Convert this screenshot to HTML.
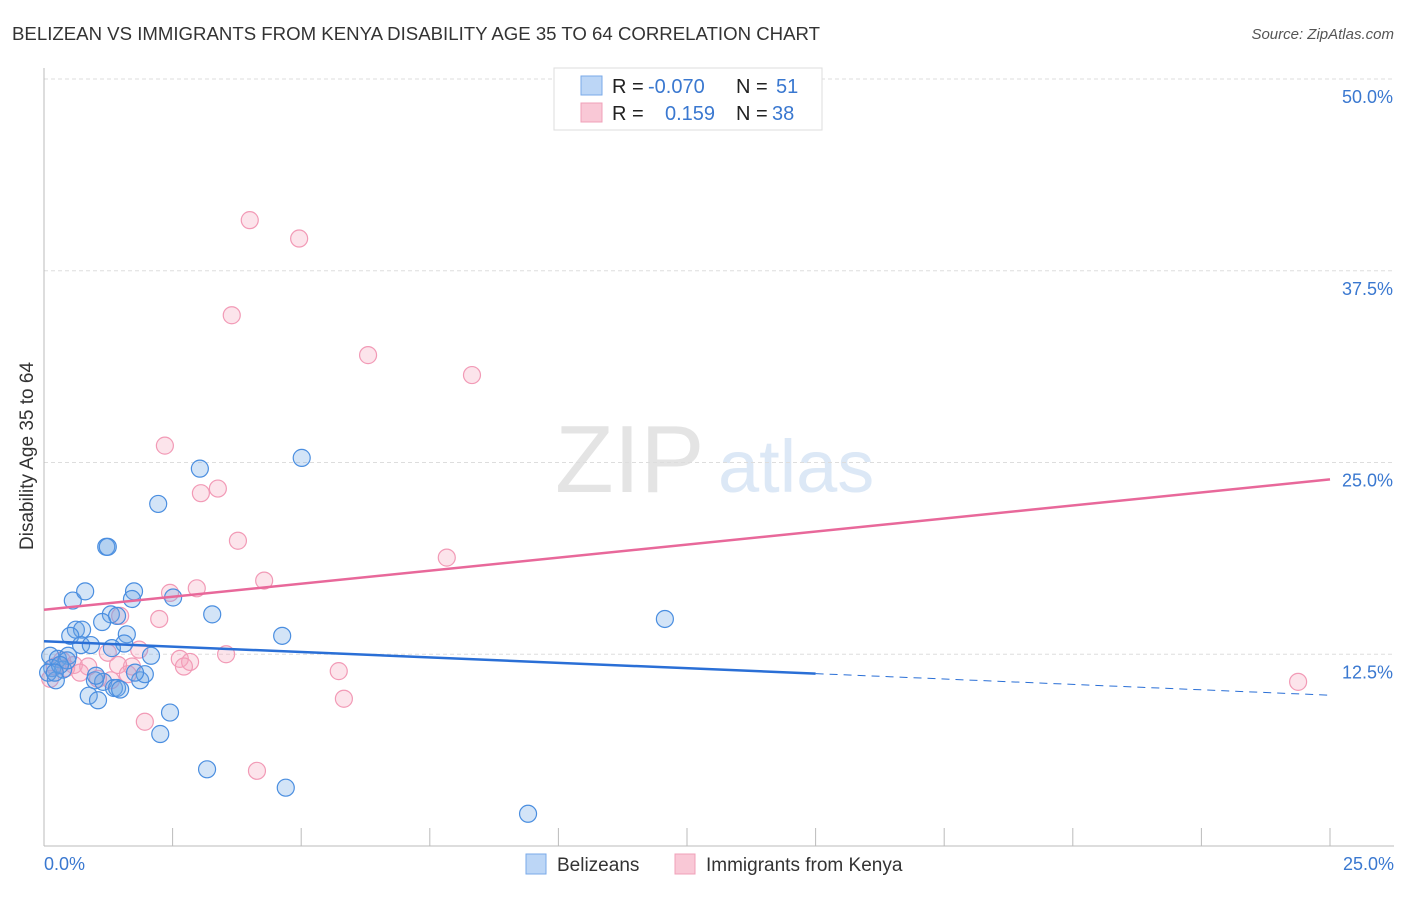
<!DOCTYPE html>
<html><head><meta charset="utf-8"><style>
body{margin:0;background:#fff;font-family:"Liberation Sans",sans-serif;}
svg text{font-family:"Liberation Sans",sans-serif;}
</style></head><body>
<svg id="chart" width="1406" height="892" xmlns="http://www.w3.org/2000/svg">
<text x="12" y="40" font-size="18" fill="#333" textLength="808" lengthAdjust="spacingAndGlyphs">BELIZEAN VS IMMIGRANTS FROM KENYA DISABILITY AGE 35 TO 64 CORRELATION CHART</text>
<text x="1394" y="39" font-size="15" fill="#555" font-style="italic" text-anchor="end">Source: ZipAtlas.com</text>
<g>
<text x="555" y="492" font-size="96" fill="#e4e4e4" font-family="Liberation Serif,serif">ZIP</text>
<text x="718" y="492" font-size="74" fill="#dce8f6">atlas</text>
</g>
<g id="grid"></g>
<g id="axes"></g>
<g id="marks"></g>
<g>
<rect x="554" y="68" width="268" height="62" fill="#fff" stroke="#ddd"/>
<rect x="581" y="76" width="21" height="19" fill="#bcd6f6" stroke="#7aaae8"/>
<rect x="581" y="103" width="21" height="19" fill="#f9c8d6" stroke="#f0a0b8"/>
<text x="612" y="93" font-size="20" fill="#222">R =</text>
<text x="648" y="93" font-size="20" fill="#3a78d0">-0.070</text>
<text x="736" y="93" font-size="20" fill="#222">N =</text>
<text x="776" y="93" font-size="20" fill="#3a78d0">51</text>
<text x="612" y="120" font-size="20" fill="#222">R =</text>
<text x="665" y="120" font-size="20" fill="#3a78d0">0.159</text>
<text x="736" y="120" font-size="20" fill="#222">N =</text>
<text x="772" y="120" font-size="20" fill="#3a78d0">38</text>
</g>
<g>
<rect x="526" y="854" width="20" height="20" fill="#bcd6f6" stroke="#7aaae8"/>
<text x="557" y="871" font-size="19" fill="#333">Belizeans</text>
<rect x="675" y="854" width="20" height="20" fill="#f9c8d6" stroke="#f0a0b8"/>
<text x="706" y="871" font-size="19" fill="#333">Immigrants from Kenya</text>
</g>
<text transform="translate(33,456) rotate(-90)" font-size="19" fill="#333" text-anchor="middle">Disability Age 35 to 64</text>
</svg>
<script>
const yTicks=[12.5,25,37.5,50];
const yTickLabels=["12.5%","25.0%","37.5%","50.0%"];
const blueX=[3.03,5.01,2.22,1.21,1.24,0.56,0.80,1.75,1.71,2.51,3.27,1.30,1.42,1.13,1.61,4.63,12.07,0.62,0.74,0.51,0.72,0.91,1.56,1.32,2.08,0.12,0.27,0.47,0.16,0.37,0.45,0.99,1.15,1.36,1.42,1.87,1.96,1.77,0.23,0.87,1.05,2.45,2.26,3.17,4.70,9.41,0.08,0.31,1.01,1.48,0.21];
const blueY=[24.6,25.3,22.3,19.5,19.5,16.0,16.6,16.6,16.1,16.2,15.1,15.1,15.0,14.6,13.8,13.7,14.8,14.1,14.1,13.7,13.1,13.1,13.2,12.9,12.4,12.4,12.2,12.4,11.6,11.5,12.1,10.8,10.7,10.3,10.3,10.8,11.2,11.3,10.8,9.8,9.5,8.7,7.3,5.0,3.8,2.1,11.3,11.8,11.1,10.2,11.3];
const pinkX=[4.00,4.96,3.65,6.30,8.32,2.35,3.38,3.05,3.77,7.83,4.28,2.97,2.45,2.24,1.48,1.85,1.24,2.64,2.84,2.72,3.54,5.73,5.83,1.96,4.14,24.38,0.12,0.35,0.58,0.86,1.05,1.71,1.44,1.63,1.30,0.21,0.43,0.70];
const pinkY=[40.8,39.6,34.6,32.0,30.7,26.1,23.3,23.0,19.9,18.8,17.3,16.8,16.5,14.8,15.0,12.8,12.6,12.2,12.0,11.7,12.5,11.4,9.6,8.1,4.9,10.7,10.9,12.1,11.8,11.7,10.9,11.7,11.8,11.2,10.8,11.7,11.6,11.3];
const blueTrend=[13.35,9.83];
const pinkTrend=[15.4,23.9];
const blueSolidEnd=15;

const X0=44,X1=1330,Y0=846,Y50=79;
const sx=v=>X0+(v/25)*(X1-X0);
const sy=v=>Y0-(v/50)*(Y0-Y50);
const NS="http://www.w3.org/2000/svg";
function mk(tag,attrs,parent){const e=document.createElementNS(NS,tag);for(const k in attrs)e.setAttribute(k,attrs[k]);parent.appendChild(e);return e;}
const grid=document.getElementById('grid'),axes=document.getElementById('axes'),marks=document.getElementById('marks');
yTicks.forEach((t,i)=>{
  const l=mk('line',{x1:44,x2:1394,y1:sy(t),y2:sy(t),stroke:'#ddd','stroke-dasharray':'4,3'},grid);
  
  
  const tx=mk('text',{x:1393,y:sy(t)+24,'font-size':18,fill:'#3a78d0','text-anchor':'end'},axes);
  tx.textContent=yTickLabels[i];
  
  
});
const ya=mk('line',{x1:44,x2:44,y1:68,y2:846,stroke:'#bbb'},axes);


const xa=mk('line',{x1:44,x2:1394,y1:846,y2:846,stroke:'#bbb'},axes);


for(let i=0;i<=10;i++){
  const tk=mk('line',{x1:sx(i*2.5),x2:sx(i*2.5),y1:828,y2:846,stroke:'#bbb'},axes);
  
  
}
const xl0=mk('text',{x:44,y:870,'font-size':18,fill:'#3a78d0'},axes);xl0.textContent='0.0%';


const xl1=mk('text',{x:1394,y:870,'font-size':18,fill:'#3a78d0','text-anchor':'end'},axes);xl1.textContent='25.0%';



pinkX.forEach((x,i)=>{
  const c=mk('circle',{cx:sx(x),cy:sy(pinkY[i]),r:8.5,fill:'rgba(245,165,190,0.3)',stroke:'#f29ab6','stroke-width':1.2},marks);
  
  
});
blueX.forEach((x,i)=>{
  const c=mk('circle',{cx:sx(x),cy:sy(blueY[i]),r:8.5,fill:'rgba(110,165,230,0.3)',stroke:'#4a8ee0','stroke-width':1.2},marks);
  
  
});
const by=x=>blueTrend[0]+(blueTrend[1]-blueTrend[0])*x/25;
const bl=mk('line',{x1:sx(0),y1:sy(by(0)),x2:sx(blueSolidEnd),y2:sy(by(blueSolidEnd)),stroke:'#2a6fd6','stroke-width':2.5},marks);


const bd=mk('line',{x1:sx(blueSolidEnd),y1:sy(by(blueSolidEnd)),x2:sx(25),y2:sy(by(25)),stroke:'#2a6fd6','stroke-width':1,'stroke-dasharray':'8,6'},marks);


const pl=mk('line',{x1:sx(0),y1:sy(pinkTrend[0]),x2:sx(25),y2:sy(pinkTrend[1]),stroke:'#e8689a','stroke-width':2.5},marks);


</script>
</body></html>
